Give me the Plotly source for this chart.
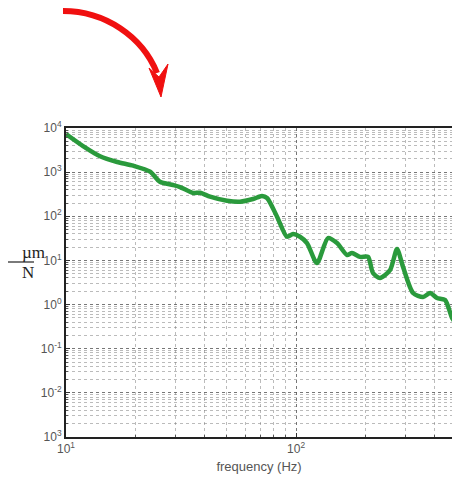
import plotly.graph_objects as go

# Frequency response (compliance) samples
freq_hz = [10.0, 11.86, 14.06, 16.7, 19.6, 23.2, 25.6, 29.2, 31.3, 35.7, 38.3, 42.3, 50.1, 57.1,
           65.0, 71.1, 74.8, 82.7, 91.4, 97.0, 104.0, 111.6, 123.3, 137.7, 150.7,
           166.7, 175.0, 189.8, 205.6, 216.0, 231.8, 256.4, 274.8, 291.9, 322.6,
           356.5, 382.6, 410.0, 444.6, 476.6, 500.0]
compliance = [7310, 3900, 2300, 1700, 1400, 1023, 607, 512, 460, 337, 342, 278, 225, 214,
              246, 288, 259, 98, 34.4, 39.7, 34.4, 24.8, 8.75, 32.2, 24.8,
              13.3, 14.7, 12.0, 12.0, 5.19, 4.0, 6.07, 18.1, 7.1, 1.83,
              1.48, 1.83, 1.41, 1.27, 0.5, 0.35]

y_ticks = [1e-3, 1e-2, 1e-1, 1e0, 1e1, 1e2, 1e3, 1e4]
y_tick_text = ["10<sup>3</sup>", "10<sup>-2</sup>", "10<sup>-1</sup>", "10<sup>0</sup>",
               "10<sup>1</sup>", "10<sup>2</sup>", "10<sup>3</sup>", "10<sup>4</sup>"]
x_ticks = [10, 100, 1000]
x_tick_text = ["10<sup>1</sup>", "10<sup>2</sup>", "10<sup>3</sup>"]

W, H = 452, 485
ML, MR, MT, MB = 66, 0, 128, 48
PW, PH = W - ML - MR, H - MT - MB


def px(x):
    return (x - ML) / PW


def py(y):
    return (H - MB - y) / PH


fig = go.Figure()
fig.add_trace(go.Scatter(
    x=freq_hz, y=compliance, mode="lines",
    line=dict(color="#2a9a3c", width=4.5, shape="spline", smoothing=0.7),
    hoverinfo="skip", showlegend=False,
))

grid_col = "rgba(120,120,120,0.5)"
axis_common = dict(
    type="log", showline=True, linecolor="#222", linewidth=2,
    ticks="inside", ticklen=4, tickcolor="#333",
    showgrid=True, gridcolor="rgba(90,90,90,0.7)", griddash="dot", gridwidth=1,
    tickfont=dict(family="Liberation Sans, Arial", size=12, color="#555"),
    zeroline=False,
    minor=dict(dtick="D1", showgrid=True, gridcolor=grid_col, griddash="dot",
               gridwidth=1, ticks="inside", ticklen=2, tickcolor="#555"),
)

fig.update_layout(
    width=W, height=H,
    margin=dict(l=ML, r=MR, t=MT, b=MB),
    paper_bgcolor="white", plot_bgcolor="white",
    xaxis=dict(axis_common, range=[1, 2.678], tickmode="array",
               tickvals=x_ticks, ticktext=x_tick_text, mirror=True,
               title=dict(text="frequency (Hz)", standoff=6,
                          font=dict(family="Liberation Sans, Arial", size=13, color="#555"))),
    yaxis=dict(axis_common, range=[-3, 4], tickmode="array",
               tickvals=y_ticks, ticktext=y_tick_text, mirror=False),
)

# y-axis unit as a fraction: µm over N
fig.add_annotation(x=px(20), y=py(252), xref="paper", yref="paper", text="µm",
                   showarrow=False, font=dict(family="Liberation Serif, DejaVu Serif", size=17, color="#222"))
fig.add_annotation(x=px(20), y=py(272), xref="paper", yref="paper", text="N",
                   showarrow=False, font=dict(family="Liberation Serif, DejaVu Serif", size=17, color="#222"))
fig.add_shape(type="line", xref="paper", yref="paper",
              x0=px(8), x1=px(34), y0=py(262), y1=py(262),
              line=dict(color="#222", width=1.2))

# curved red arrow above the plot
red = "#f01010"
shaft = "M {},{} C {},{} {},{} {},{}".format(
    px(63), py(11), px(104.8), py(11), px(142.3), py(36.3), px(157), py(73))
fig.add_shape(type="path", xref="paper", yref="paper", path=shaft,
              line=dict(color=red, width=6))
head = "M {},{} L {},{} L {},{} L {},{} Z".format(
    px(149), py(68), px(159), py(77), px(168), py(64), px(161), py(97))
fig.add_shape(type="path", xref="paper", yref="paper", path=head,
              line=dict(color=red, width=1), fillcolor=red)

fig.write_html("out.html")
